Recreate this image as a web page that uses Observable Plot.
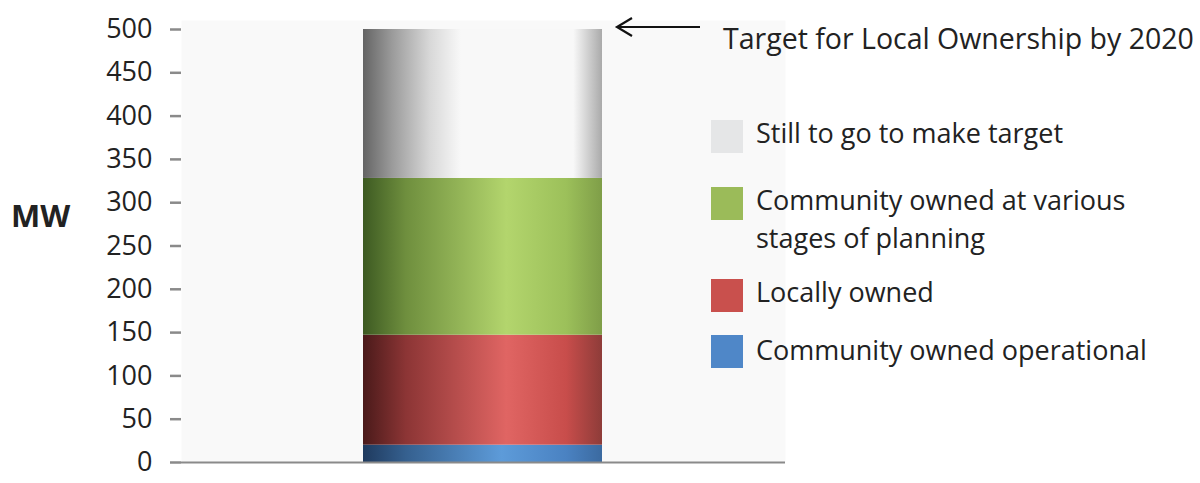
<!DOCTYPE html>
<html>
<head>
<meta charset="utf-8">
<script src="https://cdn.jsdelivr.net/npm/d3@7"></script>
<script src="https://cdn.jsdelivr.net/npm/@observablehq/plot@0.6"></script>
<style>
  body { margin: 0; background: #fff; }
  #wrap { position: relative; width: 1200px; height: 483px; font-family: "Open Sans", sans-serif; color: #222; }
  #wrap svg.plot { position: absolute; left: 0; top: 0; }
  .lg-sw { position: absolute; width: 32px; height: 33px; }
  .lg-tx { position: absolute; font-size: 27px; line-height: 38px; white-space: nowrap; }
  #ylab { position: absolute; left: 11px; top: 194px; font-size: 31px; font-weight: bold; }
  #target { position: absolute; left: 723px; top: 19px; font-size: 28.5px; white-space: nowrap; }
</style>
</head>
<body>
<div id="wrap"></div>
<script>
// ---- data ----
const category = "Local Ownership";
const seriesNames = ["Community owned operational", "Locally owned", "Community owned at various stages of planning", "Still to go to make target"];
const seriesValues = [20, 127, 181, 172];
const yTicks = [0, 50, 100, 150, 200, 250, 300, 350, 400, 450, 500];
const targetLabel = "Target for Local Ownership by 2020";
const legendOrder = ["Still to go to make target", "Community owned at various stages of planning", "Locally owned", "Community owned operational"];
const legendLabels = {
  "Still to go to make target": ["Still to go to make target"],
  "Community owned at various stages of planning": ["Community owned at various", "stages of planning"],
  "Locally owned": ["Locally owned"],
  "Community owned operational": ["Community owned operational"]
};

// gradient styles (cylinder shading) per series
const gradStops = {
  "Community owned operational": [["0%", "#1f3a5e"], ["18%", "#35608f"], ["58%", "#5d9bd9"], ["85%", "#4a82c2"], ["100%", "#3b6aa0"]],
  "Locally owned": [["0%", "#4a1a1a"], ["18%", "#8c3535"], ["60%", "#e06563"], ["85%", "#c84d4b"], ["100%", "#8e3c39"]],
  "Community owned at various stages of planning": [["0%", "#3d5a22"], ["18%", "#6f8f3e"], ["60%", "#b3d56d"], ["85%", "#9cc05a"], ["100%", "#7f9e48"]],
  "Still to go to make target": [["0%", "#646464"], ["12%", "#9a9a9a"], ["28%", "#d8d8d8"], ["41%", "#f8f8f8"], ["88%", "#f8f8f8"], ["100%", "#aaaaaa"]]
};
const swatchColor = {
  "Still to go to make target": "#e5e6e7",
  "Community owned at various stages of planning": "#9bbb59",
  "Locally owned": "#c9504d",
  "Community owned operational": "#4f87c8"
};

const data = seriesNames.map((s, i) => ({ cat: category, series: s, value: seriesValues[i], gid: "g" + i }));

const defs = () => {
  const d = d3.create("svg:defs");
  data.forEach(row => {
    const lg = d.append("linearGradient").attr("id", row.gid).attr("x1", "0").attr("x2", "1").attr("y1", "0").attr("y2", "0");
    gradStops[row.series].forEach(([o, c]) => lg.append("stop").attr("offset", o).attr("stop-color", c));
  });
  return d.node();
};

const chart = Plot.plot({
  width: 1200,
  height: 483,
  marginLeft: 181,
  marginRight: 415,
  marginTop: 29,
  marginBottom: 21,
  style: { fontFamily: "Open Sans, sans-serif", fontSize: "27px", color: "#222", background: "transparent" },
  x: { domain: [category], padding: 0.432, axis: null },
  y: { domain: [0, 500], ticks: yTicks, label: null },
  marks: [
    defs,
    Plot.frame({ fill: "#f9f9f9", stroke: null, insetTop: -9 }),
    Plot.barY(data, Plot.stackY({ x: "cat", y: "value", fill: d => `url(#${d.gid})`, order: null })),
    Plot.axisY({ ticks: yTicks, tickSize: 11, tickPadding: 18, stroke: "#8a8a8a", strokeWidth: 2.5, fill: "#222", fontSize: 27, label: null }),
    Plot.ruleX([0], { frameAnchor: "left", stroke: "#8a8a8a", strokeWidth: 2 }),
    Plot.ruleY([0], { stroke: "#8a8a8a", strokeWidth: 2 })
  ]
});
chart.classList.add("plot");
const wrap = document.getElementById("wrap");
wrap.appendChild(chart);

// y label
const yl = document.createElement("div");
yl.id = "ylab"; yl.textContent = "MW"; wrap.appendChild(yl);

// target annotation
const tg = document.createElement("div");
tg.id = "target"; tg.textContent = targetLabel; wrap.appendChild(tg);
const ns = "http://www.w3.org/2000/svg";
const arr = document.createElementNS(ns, "svg");
arr.setAttribute("width", 1200); arr.setAttribute("height", 483);
arr.style.position = "absolute"; arr.style.left = "0"; arr.style.top = "0"; arr.style.pointerEvents = "none";
arr.innerHTML = '<path d="M700,27 L618,27 M632,18 L617,27 L632,36" fill="none" stroke="#111" stroke-width="2.2"/>';
wrap.appendChild(arr);

// legend
const swTop = [120, 187, 279, 335];
const txTop = [114, 181, 273, 331];
legendOrder.forEach((s, i) => {
  const sw = document.createElement("div");
  sw.className = "lg-sw";
  sw.style.left = "711px"; sw.style.top = swTop[i] + "px"; sw.style.background = swatchColor[s];
  wrap.appendChild(sw);
  const tx = document.createElement("div");
  tx.className = "lg-tx";
  tx.style.left = "756px"; tx.style.top = txTop[i] + "px";
  tx.innerHTML = legendLabels[s].join("<br>");
  wrap.appendChild(tx);
});
</script>
</body>
</html>
